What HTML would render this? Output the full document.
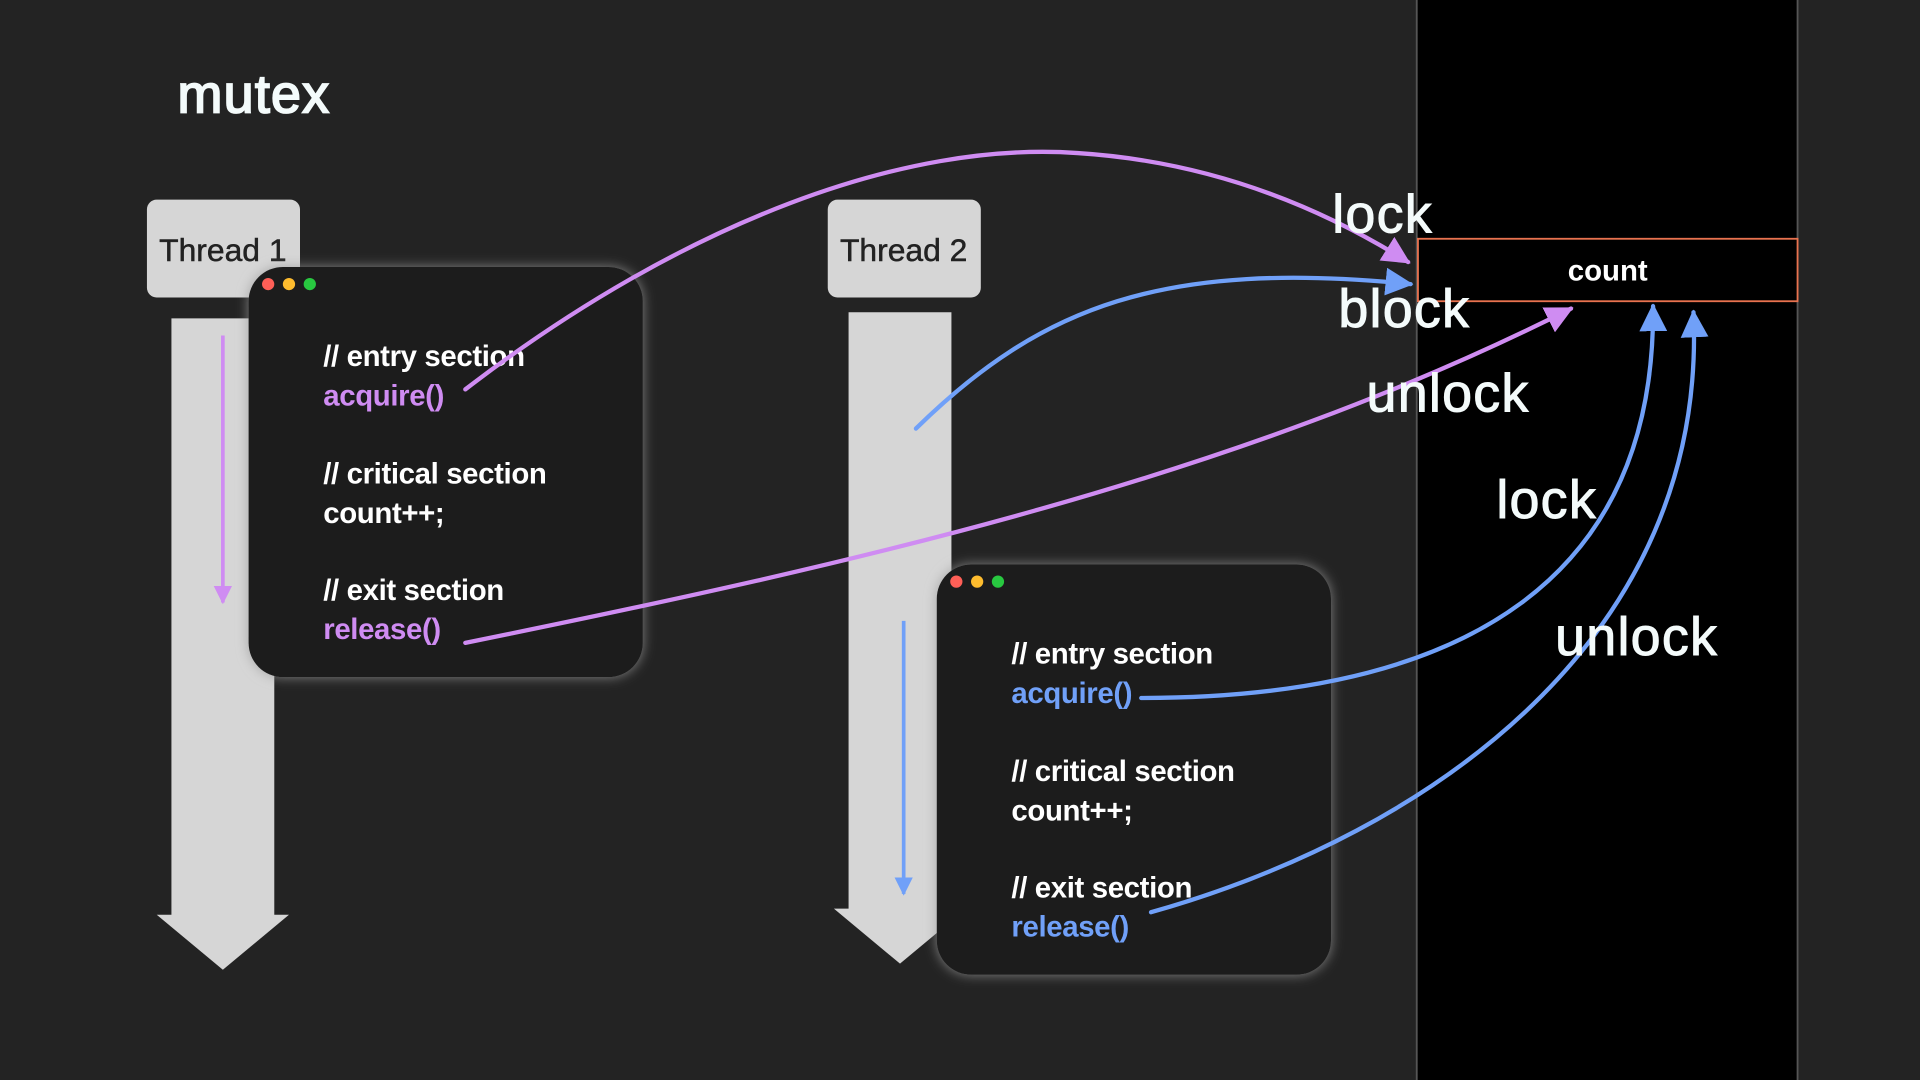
<!DOCTYPE html>
<html><head><meta charset="utf-8"><style>
html,body{margin:0;padding:0;background:#232323;}
svg{display:block}
.c{font-family:"Liberation Sans",sans-serif;font-size:24px;font-weight:bold;fill:#fff;letter-spacing:-0.3px}
.h{font-family:"Liberation Sans",sans-serif;font-size:44px;fill:#f4fbfb;letter-spacing:1px;stroke:#f4fbfb;stroke-width:0.8}
</style></head><body>
<svg width="1920" height="1080" viewBox="0 0 1568 882" xmlns="http://www.w3.org/2000/svg">
<defs>
<filter id="g" x="-20%" y="-20%" width="140%" height="140%"><feDropShadow dx="0" dy="0" stdDeviation="5" flood-color="#9a9a9a" flood-opacity="0.8"/></filter>
<marker id="ap" viewBox="0 0 10 10" refX="9" refY="5" markerWidth="6.5" markerHeight="6.5" orient="auto"><path d="M0,0 L10,5 L0,10 z" fill="#cf8cf2"/></marker>
<marker id="ab" viewBox="0 0 10 10" refX="9" refY="5" markerWidth="6.5" markerHeight="6.5" orient="auto"><path d="M0,0 L10,5 L0,10 z" fill="#70a0f8"/></marker>
<marker id="ap2" viewBox="0 0 10 10" refX="9" refY="5" markerWidth="5" markerHeight="5" orient="auto"><path d="M0,0 L10,5 L0,10 z" fill="#cf8cf2"/></marker>
<marker id="ab2" viewBox="0 0 10 10" refX="9" refY="5" markerWidth="5" markerHeight="5" orient="auto"><path d="M0,0 L10,5 L0,10 z" fill="#70a0f8"/></marker>
</defs>
<rect width="1568" height="882" fill="#232323"/>
<rect x="1157" y="0" width="311" height="882" fill="#000"/>
<line x1="1157" y1="0" x2="1157" y2="882" stroke="#555" stroke-width="1.5"/>
<line x1="1468" y1="0" x2="1468" y2="882" stroke="#555" stroke-width="1.5"/>
<text x="145" y="92" class="h" style="font-size:44px;stroke-width:1.5">mutex</text>

<!-- Thread 1 -->
<rect x="120" y="163" width="125" height="80" rx="8" fill="#d6d6d6"/>
<text x="182" y="213" text-anchor="middle" font-family="Liberation Sans,sans-serif" font-size="26" fill="#222" stroke="#222" stroke-width="0.4">Thread 1</text>
<rect x="140" y="260" width="84" height="490" fill="#d6d6d6"/>
<polygon points="128,747 236,747 182,792" fill="#d6d6d6"/>
<line x1="182" y1="274" x2="182" y2="492" stroke="#cf8cf2" stroke-width="3" marker-end="url(#ap2)"/>

<!-- Thread 2 -->
<rect x="676" y="163" width="125" height="80" rx="8" fill="#d6d6d6"/>
<text x="738" y="213" text-anchor="middle" font-family="Liberation Sans,sans-serif" font-size="26" fill="#222" stroke="#222" stroke-width="0.4">Thread 2</text>
<rect x="693" y="255" width="84" height="490" fill="#d6d6d6"/>
<polygon points="681,742 789,742 735,787" fill="#d6d6d6"/>

<!-- window 1 -->
<rect x="203" y="218" width="322" height="335" rx="28" fill="#1e1e1e" filter="url(#g)"/>
<circle cx="219" cy="232" r="5" fill="#fe5f57"/><circle cx="236" cy="232" r="5" fill="#febc2e"/><circle cx="253" cy="232" r="5" fill="#28c840"/>
<text x="264" y="299" class="c">// entry section</text>
<text x="264" y="331" class="c" style="fill:#cf8cf2">acquire()</text>
<text x="264" y="395" class="c">// critical section</text>
<text x="264" y="427" class="c">count++;</text>
<text x="264" y="490" class="c">// exit section</text>
<text x="264" y="522" class="c" style="fill:#cf8cf2">release()</text>

<!-- window 2 -->
<rect x="765" y="461" width="322" height="335" rx="28" fill="#1e1e1e" filter="url(#g)"/>
<circle cx="781" cy="475" r="5" fill="#fe5f57"/><circle cx="798" cy="475" r="5" fill="#febc2e"/><circle cx="815" cy="475" r="5" fill="#28c840"/>
<text x="826" y="542" class="c">// entry section</text>
<text x="826" y="574" class="c" style="fill:#70a0f8">acquire()</text>
<text x="826" y="638" class="c">// critical section</text>
<text x="826" y="670" class="c">count++;</text>
<text x="826" y="733" class="c">// exit section</text>
<text x="826" y="765" class="c" style="fill:#70a0f8">release()</text>
<line x1="738" y1="507" x2="738" y2="730" stroke="#70a0f8" stroke-width="3" marker-end="url(#ab2)"/>

<!-- count -->
<rect x="1158" y="195" width="310" height="51" fill="#000" stroke="#e8724f" stroke-width="1.5"/>
<text x="1313" y="229" text-anchor="middle" font-family="Liberation Sans,sans-serif" font-size="24" font-weight="bold" fill="#fff">count</text>

<!-- curves -->
<g fill="none" stroke-width="3.5" stroke-linecap="round">
<path d="M380,318 C560,180 740,115 880,125 C990,132 1080,170 1150,214" stroke="#cf8cf2" marker-end="url(#ap)"/>
<path d="M748,350 C850,250 950,212 1152,232" stroke="#70a0f8" marker-end="url(#ab)"/>
<path d="M380,525 C700,460 1010,390 1283,252" stroke="#cf8cf2" marker-end="url(#ap)"/>
<path d="M932,570 C1200,570 1352,470 1350,250" stroke="#70a0f8" marker-end="url(#ab)"/>
<path d="M940,745 C1170,680 1395,520 1383,255" stroke="#70a0f8" marker-end="url(#ab)"/>
</g>

<text x="1088" y="190" class="h">lock</text>
<text x="1093" y="267" class="h">block</text>
<text x="1116" y="336" class="h">unlock</text>
<text x="1222" y="423" class="h">lock</text>
<text x="1270" y="535" class="h">unlock</text>
</svg>
</body></html>
